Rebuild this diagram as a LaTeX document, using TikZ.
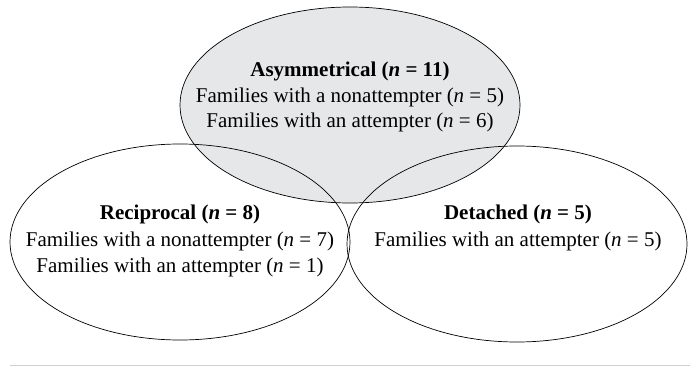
\documentclass[tikz,border=0pt]{standalone}
\usepackage{fontspec}
\setmainfont{Liberation Serif}
\usetikzlibrary{shapes.geometric}
\definecolor{venngray}{HTML}{E6E7E9}
\definecolor{rulegray}{HTML}{D0D0D0}
\begin{document}
\begin{tikzpicture}[x=1pt,y=-1pt,
  venn/.style={draw=black, line width=0.7pt, ellipse, minimum width=340pt, minimum height=196pt, inner sep=0pt},
  lbl/.style={anchor=base, font=\fontsize{21}{25}\selectfont, inner sep=0pt}]
\useasboundingbox (0,0) rectangle (690,366);
\node[venn, fill=venngray] (asym) at (350,105) {};
\node[venn] (recip) at (180,242) {};
\node[venn] (det) at (517,244) {};
% top
\node[lbl] (a1) at (350,77) {\textbf{Asymmetrical (\textit{n} = 11)}};
\node[lbl] (a2) at (350,103) {Families with a nonattempter (\textit{n} = 5)};
\node[lbl] (a3) at (350,128) {Families with an attempter (\textit{n} = 6)};
% left
\node[lbl] (r1) at (180,219) {\textbf{Reciprocal (\textit{n} = 8)}};
\node[lbl] (r2) at (180,246) {Families with a nonattempter (\textit{n} = 7)};
\node[lbl] (r3) at (180,272) {Families with an attempter (\textit{n} = 1)};
% right
\node[lbl] (d1) at (518,219) {\textbf{Detached (\textit{n} = 5)}};
\node[lbl] (d2) at (518,246) {Families with an attempter (\textit{n} = 5)};
% rule
\coordinate (ruleL) at (10,365);
\coordinate (ruleR) at (690,365);
\draw[rulegray, line width=1pt] (ruleL) -- (ruleR);
\end{tikzpicture}
\end{document}
